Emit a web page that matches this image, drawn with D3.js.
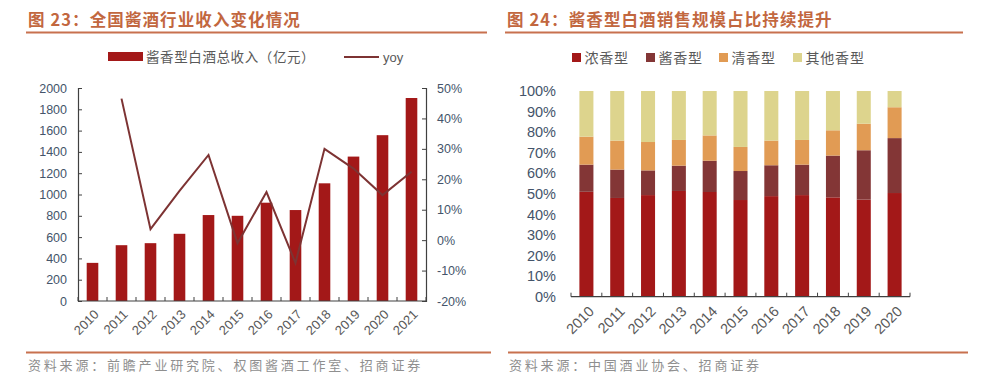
<!DOCTYPE html>
<html><head><meta charset="utf-8">
<script src="https://cdn.jsdelivr.net/npm/d3@7"></script>
<style>
html,body{margin:0;padding:0;background:#fff;}
svg{display:block;}
.num{font-family:"Liberation Sans",Arial,sans-serif;}
.cjk{font-family:"Noto Sans CJK SC",sans-serif;}
</style></head>
<body>
<svg id="c" width="986" height="382"></svg>
<script>
// ---- Data: chart 1 ----
const years1 = ['2010','2011','2012','2013','2014','2015','2016','2017','2018','2019','2020','2021'];
const revenue = [358, 524, 543, 631, 807, 800, 923, 854, 1105, 1356, 1557, 1906];
const yoy = [null, 46.5, 3.6, 16.2, 28.0, -1.0, 15.8, -7.5, 30.0, 23.5, 14.8, 22.5];
const leftTicks = [0,200,400,600,800,1000,1200,1400,1600,1800,2000];
const rightTicks = [-20,-10,0,10,20,30,40,50];
// ---- Data: chart 2 ----
const years2 = ['2010','2011','2012','2013','2014','2015','2016','2017','2018','2019','2020'];
const nongxiang = [51.0, 48.0, 49.4, 51.4, 50.9, 47.0, 48.9, 49.4, 48.3, 47.2, 50.4];
const jiangxiang = [13.2, 13.8, 12.0, 12.3, 15.2, 14.1, 15.0, 14.8, 20.3, 24.0, 26.7];
const qingxiang = [13.6, 14.1, 13.8, 12.5, 12.3, 11.7, 12.0, 12.0, 12.3, 12.9, 15.0];
const qita = [22.2, 24.1, 24.8, 23.8, 21.6, 27.2, 24.1, 23.8, 19.1, 15.9, 7.9];
const seriesNames = ['浓香型','酱香型','清香型','其他香型'];
const pctTicks = [0,10,20,30,40,50,60,70,80,90,100];

const svg = d3.select('#c');
svg.append('rect').attr('width',986).attr('height',382).attr('fill','#fff');

const titleColor = '#c2673f';
const lineColor = '#c8714e';
const axisText = '#44546a';
const xText = '#595959';

// ---------- Titles and footer ----------
function header(x, text, lx1, lx2){
  svg.append('text').attr('class','cjk').attr('x',x).attr('y',26)
    .attr('font-size',16.5).attr('font-weight',700).attr('letter-spacing',1.1)
    .attr('fill',titleColor).text(text);
  svg.append('line').attr('x1',lx1).attr('x2',lx2).attr('y1',32.5).attr('y2',32.5)
    .attr('stroke',lineColor).attr('stroke-width',2.2);
}
header(28,'图 23：全国酱酒行业收入变化情况',26,487);
header(507,'图 24：酱香型白酒销售规模占比持续提升',505,963);

function footer(x, text, lx1, lx2){
  svg.append('line').attr('x1',lx1).attr('x2',lx2).attr('y1',352.5).attr('y2',352.5)
    .attr('stroke',lineColor).attr('stroke-width',2.2);
  svg.append('text').attr('class','cjk').attr('x',x).attr('y',370)
    .attr('font-size',13).attr('letter-spacing',2.8).attr('fill','#8f8f8f').text(text);
}
footer(28,'资料来源：前瞻产业研究院、权图酱酒工作室、招商证券',26,491);
footer(509,'资料来源：中国酒业协会、招商证券',508,968);

// ---------- Chart 1 ----------
const L = {x0:78, x1:426, y0:301, y1:88};
const x1 = d3.scaleBand().domain(years1).range([L.x0, L.x1]).paddingInner(0).paddingOuter(0);
const yL = d3.scaleLinear().domain([0,2000]).range([L.y0, L.y1]);
const yR = d3.scaleLinear().domain([-20,50]).range([L.y0, L.y1]);
const bw1 = x1.bandwidth()*0.4;

const g1 = svg.append('g');
g1.selectAll('rect.bar').data(years1.map((y,i)=>({y, v:revenue[i]}))).enter()
  .append('rect').attr('class','bar')
  .attr('x',d=>x1(d.y)+(x1.bandwidth()-bw1)/2).attr('width',bw1)
  .attr('y',d=>yL(d.v)).attr('height',d=>yL(0)-yL(d.v))
  .attr('fill','#a31818');

const lineData = years1.map((y,i)=>({y, v:yoy[i]})).filter(d=>d.v!==null);
g1.append('path').datum(lineData)
  .attr('d', d3.line().x(d=>x1(d.y)+x1.bandwidth()/2).y(d=>yR(d.v)))
  .attr('fill','none').attr('stroke','#7d3333').attr('stroke-width',2);

// left axis
const axL = g1.append('g').attr('transform',`translate(${L.x0},0)`)
  .call(d3.axisLeft(yL).tickValues(leftTicks).tickSize(-4).tickPadding(11).tickFormat(d3.format('d')));
// right axis
const axR = g1.append('g').attr('transform',`translate(${L.x1},0)`)
  .call(d3.axisRight(yR).tickValues(rightTicks).tickSize(-4).tickPadding(11).tickFormat(d=>d+'%'));
[axL,axR].forEach(a=>{
  a.select('.domain').attr('stroke','#404040').attr('stroke-width',1.2);
  a.selectAll('.tick line').attr('stroke','#404040');
  a.selectAll('.tick text').attr('class','num').attr('font-size',12.5).attr('fill',axisText);
});
// bottom axis
const bottom1 = g1.append('g');
bottom1.append('line').attr('x1',L.x0).attr('x2',L.x1).attr('y1',L.y0).attr('y2',L.y0)
  .attr('stroke','#404040').attr('stroke-width',1.2);
const bounds1 = years1.map(y=>x1(y)).concat([L.x1]);
bottom1.selectAll('line.tk').data(bounds1).enter().append('line').attr('class','tk')
  .attr('x1',d=>d).attr('x2',d=>d).attr('y1',L.y0).attr('y2',L.y0-4).attr('stroke','#404040');
bottom1.selectAll('text').data(years1).enter().append('text').attr('class','num')
  .attr('transform',d=>`translate(${x1(d)+x1.bandwidth()/2+4},${L.y0+11}) rotate(-45)`)
  .attr('text-anchor','end').attr('dy','0.35em').attr('font-size',13).attr('fill',xText).text(d=>d);

// legend 1
svg.append('rect').attr('x',108).attr('y',52).attr('width',35).attr('height',9).attr('fill','#a31818');
svg.append('text').attr('class','cjk').attr('x',146).attr('y',61.5).attr('font-size',13.5)
  .attr('letter-spacing',0.6).attr('fill',xText).text('酱香型白酒总收入（亿元）');
svg.append('line').attr('x1',344).attr('x2',379).attr('y1',57).attr('y2',57)
  .attr('stroke','#7d3333').attr('stroke-width',2);
svg.append('text').attr('class','num').attr('x',383).attr('y',61.5).attr('font-size',13)
  .attr('fill',xText).text('yoy');

// ---------- Chart 2 ----------
const R = {x0:571, x1:910, y0:296.7, y1:91};
const x2 = d3.scaleBand().domain(years2).range([R.x0,R.x1]).paddingInner(0).paddingOuter(0);
const y2 = d3.scaleLinear().domain([0,100]).range([R.y0,R.y1]);
const colors = ['#a31818','#833636','#e19b54','#ddd48d'];
const rows = years2.map((y,i)=>({year:y, '浓香型':nongxiang[i], '酱香型':jiangxiang[i], '清香型':qingxiang[i], '其他香型':qita[i]}));
const stacked = d3.stack().keys(seriesNames)(rows);
const bw2 = x2.bandwidth()*0.455;
const g2 = svg.append('g');
g2.selectAll('g.s').data(stacked).enter().append('g').attr('class','s')
  .attr('fill',(d,i)=>colors[i])
  .selectAll('rect').data(d=>d).enter().append('rect')
  .attr('x',d=>x2(d.data.year)+(x2.bandwidth()-bw2)/2).attr('width',bw2)
  .attr('y',d=>y2(d[1])).attr('height',d=>y2(d[0])-y2(d[1]));

const axY2 = g2.append('g').attr('transform',`translate(${R.x0},0)`)
  .call(d3.axisLeft(y2).tickValues(pctTicks).tickSize(0).tickPadding(15).tickFormat(d=>d+'%'));
axY2.select('.domain').remove();
axY2.selectAll('.tick text').attr('class','num').attr('font-size',14.5).attr('fill',axisText);

const bottom2 = g2.append('g');
bottom2.append('line').attr('x1',R.x0).attr('x2',R.x1).attr('y1',R.y0).attr('y2',R.y0)
  .attr('stroke','#404040').attr('stroke-width',1.2);
const bounds2 = years2.map(y=>x2(y)).concat([R.x1]);
bottom2.selectAll('line.tk').data(bounds2).enter().append('line').attr('class','tk')
  .attr('x1',d=>d).attr('x2',d=>d).attr('y1',R.y0).attr('y2',R.y0-4).attr('stroke','#404040');
bottom2.selectAll('text').data(years2).enter().append('text').attr('class','num')
  .attr('transform',d=>`translate(${x2(d)+x2.bandwidth()/2+5},${R.y0+12}) rotate(-45)`)
  .attr('text-anchor','end').attr('dy','0.35em').attr('font-size',14.5).attr('fill',xText).text(d=>d);

// legend 2
const legX = [572, 646, 719, 793];
seriesNames.forEach((n,i)=>{
  svg.append('rect').attr('x',legX[i]).attr('y',53).attr('width',9).attr('height',9).attr('fill',colors[i]);
  svg.append('text').attr('class','cjk').attr('x',legX[i]+12.5).attr('y',62.5).attr('font-size',14)
    .attr('letter-spacing',0.8).attr('fill',xText).text(n);
});
</script>
</body></html>
